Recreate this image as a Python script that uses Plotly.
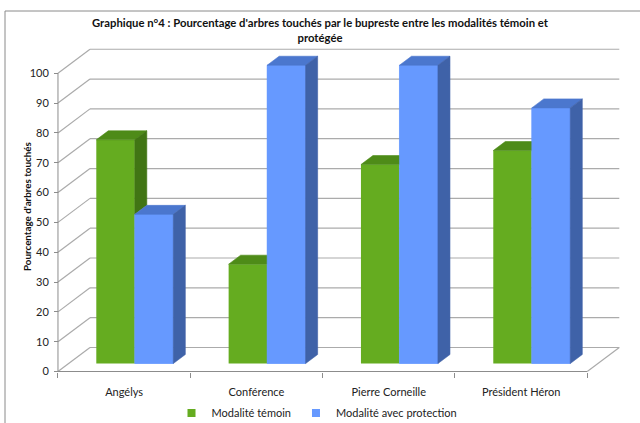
import plotly.graph_objects as go

# ---------------- data ----------------
categories = ["Angélys", "Conférence", "Pierre Corneille", "Président Héron"]
temoin = [75, 33.3, 66.7, 71.4]
protection = [50, 100, 100, 85.7]
series_names = ["Modalité témoin", "Modalité avec protection"]
y_ticks = list(range(0, 101, 10))

title_text = ("Graphique n°4 : Pourcentage d'arbres touchés par le bupreste entre les modalités témoin et"
              "<br>protégée")
y_title = "Pourcentage d'arbres touchés"

# ---------------- 3D projection parameters (axis units) ----------------
DX, DY = 0.242, 8.05          # depth offset of the back wall
BDX0, BDY0 = DX / 3, DY / 3   # depth offset of the bars' front faces
BDX, BDY = 0.0907, 3.02       # depth of the bars
BW = 0.291                    # bar width

GREEN = ("#65AC20", "#4E8B18", "#417514")   # front, top, side
BLUE = ("#6699FF", "#4B77CE", "#3F62A8")
GRID = "#ABABAB"
AXIS = "#8C8C8C"
FONT = "Lato"
N = len(categories)


def poly_trace(polys, color):
    xs, ys = [], []
    for p in polys:
        for (x, y) in p:
            xs.append(x)
            ys.append(y)
        xs.append(p[0][0])
        ys.append(p[0][1])
        xs.append(None)
        ys.append(None)
    return go.Scatter(x=xs, y=ys, mode="lines", fill="toself", fillcolor=color,
                      line=dict(width=0.6, color=color), hoverinfo="skip", showlegend=False)


centers = [i + 0.5 + BDX0 for i in range(N)]

fig = go.Figure()

# front faces as real bars
fig.add_trace(go.Bar(x=centers, y=temoin, base=BDY0, width=BW, offset=-BW,
                     marker=dict(color=GREEN[0], line=dict(width=0)), name=series_names[0],
                     showlegend=False))
fig.add_trace(go.Bar(x=centers, y=protection, base=BDY0, width=BW, offset=0,
                     marker=dict(color=BLUE[0], line=dict(width=0)), name=series_names[1],
                     showlegend=False))

# 3D faces
g_top, g_side, b_front, b_top, b_side = [], [], [], [], []
for c, vg, vb in zip(centers, temoin, protection):
    tg = BDY0 + vg
    tb = BDY0 + vb
    g_top.append([(c - BW, tg), (c, tg), (c + BDX, tg + BDY), (c - BW + BDX, tg + BDY)])
    low = BDY0 + min(vg, vb)
    if tg > low:
        g_side.append([(c, low), (c, tg), (c + BDX, tg + BDY), (c + BDX, low + BDY)])
    b_front.append([(c, BDY0), (c + BW, BDY0), (c + BW, tb), (c, tb)])
    b_top.append([(c, tb), (c + BW, tb), (c + BW + BDX, tb + BDY), (c + BDX, tb + BDY)])
    b_side.append([(c + BW, BDY0), (c + BW, tb), (c + BW + BDX, tb + BDY), (c + BW + BDX, BDY0 + BDY)])

fig.add_trace(poly_trace(g_top, GREEN[1]))
if g_side:
    fig.add_trace(poly_trace(g_side, GREEN[2]))
fig.add_trace(poly_trace(b_front, BLUE[0]))
fig.add_trace(poly_trace(b_top, BLUE[1]))
fig.add_trace(poly_trace(b_side, BLUE[2]))

# legend entries
for name, col in zip(series_names, (GREEN[0], BLUE[0])):
    fig.add_trace(go.Scatter(x=[None], y=[None], mode="markers", name=name,
                             marker=dict(symbol="square", size=8, color=col)))

# walls / gridlines as shapes below the traces
shapes = []
for v in y_ticks:
    shapes.append(dict(type="line", xref="x", yref="y", x0=0, y0=v, x1=DX, y1=v + DY,
                       line=dict(color=GRID, width=1.2), layer="below"))
    shapes.append(dict(type="line", xref="x", yref="y", x0=DX, y0=v + DY, x1=N + DX, y1=v + DY,
                       line=dict(color=GRID, width=1.2), layer="below"))
shapes.append(dict(type="line", xref="x", yref="y", x0=0, y0=0, x1=0, y1=y_ticks[-1],
                   line=dict(color=AXIS, width=1), layer="below"))
shapes.append(dict(type="line", xref="x", yref="y", x0=0, y0=0, x1=N, y1=0,
                   line=dict(color=AXIS, width=1), layer="below"))
shapes.append(dict(type="line", xref="x", yref="y", x0=N, y0=0, x1=N + DX, y1=DY,
                   line=dict(color=GRID, width=1.2), layer="below"))
# outer chart border
shapes.append(dict(type="rect", xref="paper", yref="paper",
                   x0=(5 - 54) / 569, y0=-(430 - 373) / 326, x1=(645 - 54) / 569, y1=1 + (47 - 11) / 326,
                   line=dict(color="#8A8A8A", width=1), fillcolor="rgba(0,0,0,0)", layer="below"))

XR = [-0.03, 4.27]
YR = [-0.5, 108.8]

fig.update_layout(
    width=640, height=423,
    margin=dict(l=54, r=17, t=47, b=50, autoexpand=False),
    paper_bgcolor="white", plot_bgcolor="white",
    barmode="overlay",
    font=dict(family=FONT, size=11, color="#222222"),
    title=dict(text=title_text, x=0.5, xref="container", xanchor="center",
               y=1 - 27 / 423, yref="container", yanchor="top", automargin=False,
               font=dict(family=FONT, size=11.3, color="#111111", weight="bold")),
    xaxis=dict(range=XR, anchor="free", position=(0 - YR[0]) / (YR[1] - YR[0]),
               tickmode="array", tickvals=[i + 0.5 for i in range(N)], ticktext=categories,
               ticks="", showgrid=False, zeroline=False, showline=False, automargin=False,
               ticklabelstandoff=12,
               minor=dict(tickvals=list(range(N + 1)), ticks="outside", ticklen=5,
                          tickcolor=AXIS, showgrid=False),
               tickfont=dict(size=11, color="#222222")),
    yaxis=dict(range=YR, anchor="free", position=(0 - XR[0]) / (XR[1] - XR[0]),
               tickmode="array", tickvals=y_ticks, ticks="outside", ticklen=4, tickcolor=AXIS,
               showgrid=False, zeroline=False, showline=False, ticklabelstandoff=3,
               automargin=False,
               tickfont=dict(size=11, color="#222222")),
    annotations=[dict(text=f"<b>{y_title}</b>", xref="paper", yref="paper",
                      x=(27 - 54) / 569, y=(373 - 207) / 326, xanchor="center", yanchor="middle",
                      textangle=-90, showarrow=False,
                      font=dict(family=FONT, size=9.8, color="#111111"))],
    legend=dict(orientation="h", x=(317 - 54) / 569, xanchor="center",
                y=-(413 - 373) / 326, yanchor="middle",
                font=dict(size=11, color="#222222"), bgcolor="rgba(0,0,0,0)",
                itemwidth=30, tracegroupgap=0),
    shapes=shapes,
    showlegend=True,
)

fig.write_html("out.html")
